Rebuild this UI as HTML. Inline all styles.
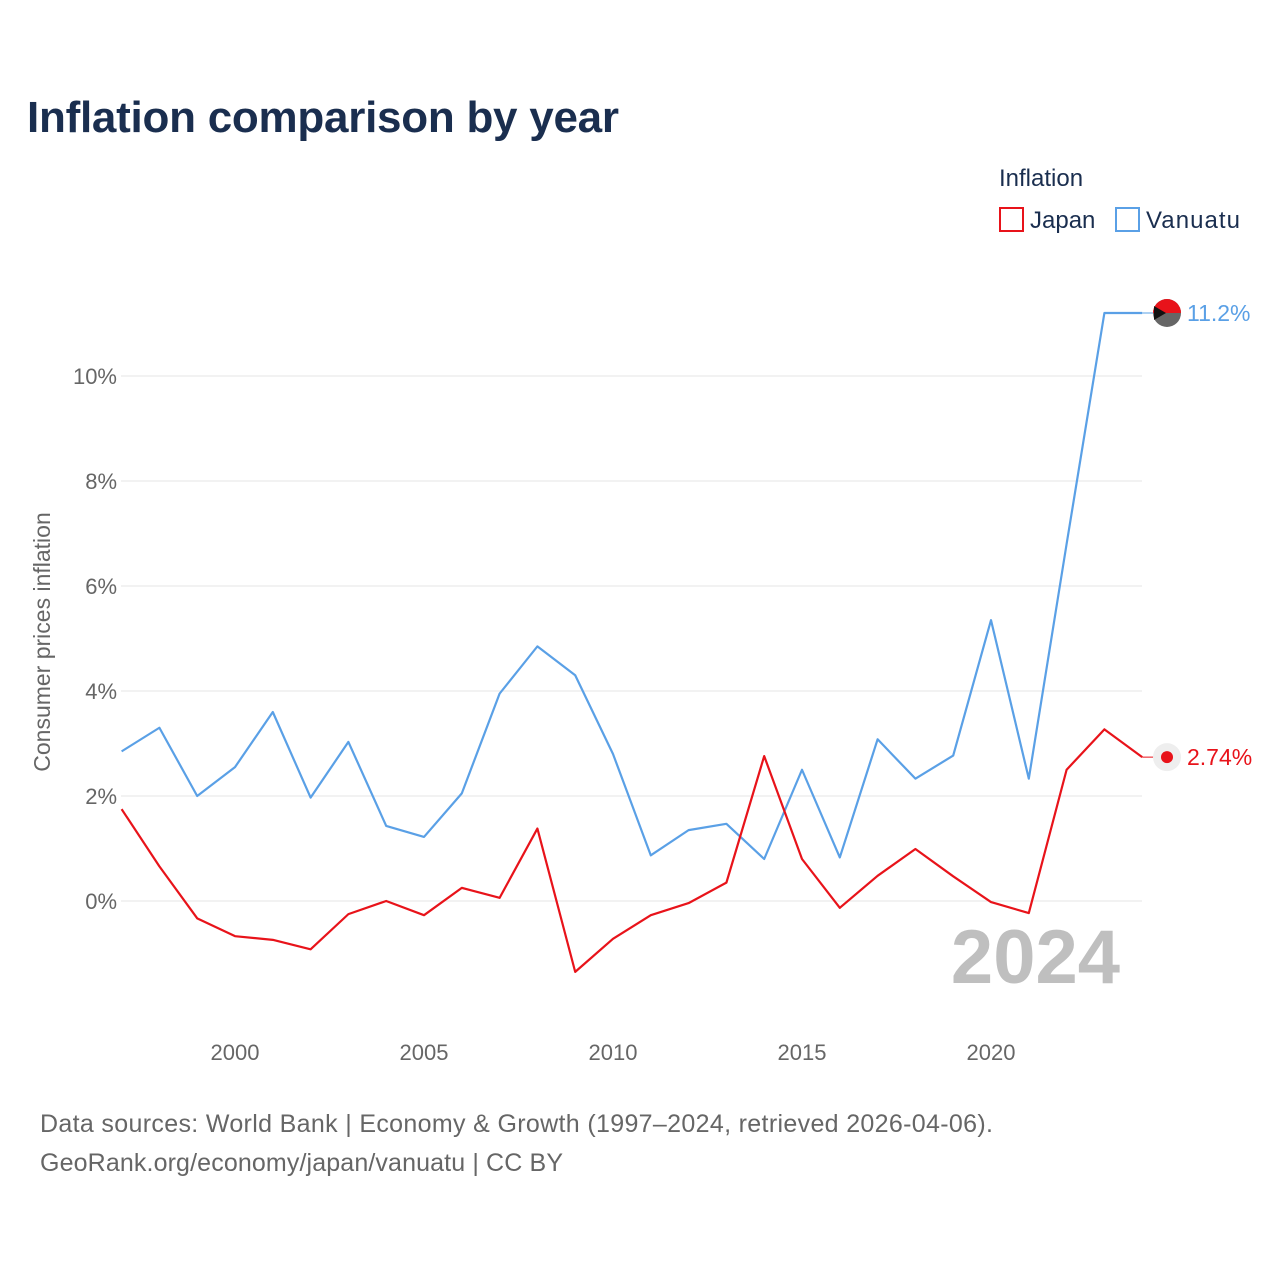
<!DOCTYPE html>
<html><head><meta charset="utf-8"><style>
body{margin:0;background:#fff;font-family:"Liberation Sans",sans-serif;}
</style></head><body>
<svg width="1280" height="1280" xmlns="http://www.w3.org/2000/svg">
<rect width="1280" height="1280" fill="#fff"/>
<text x="27" y="132" font-size="44" font-weight="bold" fill="#1a2e4f" textLength="592">Inflation comparison by year</text>
<text x="999" y="186" font-size="24" fill="#1a2e4f">Inflation</text>
<g><rect x="1000" y="208" width="23" height="23" fill="none" stroke="#e8131a" stroke-width="2"/><text x="1030" y="228" font-size="24" fill="#1a2e4f">Japan</text></g>
<g><rect x="1116" y="208" width="23" height="23" fill="none" stroke="#5aa0e6" stroke-width="2"/><text x="1146" y="228" font-size="24" fill="#1a2e4f" textLength="94">Vanuatu</text></g>
<g id="grid"></g><g id="xt"></g><g id="lines"></g>
<text x="1120" y="983" font-size="76" font-weight="bold" fill="#bfbfbf" text-anchor="end">2024</text>
<text transform="translate(50,642) rotate(-90)" font-size="23" fill="#666" text-anchor="middle">Consumer prices inflation</text>
<text x="40" y="1132" font-size="25" fill="#666" textLength="953">Data sources: World Bank | Economy &amp; Growth (1997–2024, retrieved 2026-04-06).</text>
<text x="40" y="1171" font-size="25" fill="#666" textLength="523">GeoRank.org/economy/japan/vanuatu | CC BY</text>
</svg>
<script>
const years=[1997,1998,1999,2000,2001,2002,2003,2004,2005,2006,2007,2008,2009,2010,2011,2012,2013,2014,2015,2016,2017,2018,2019,2020,2021,2022,2023,2024];
const japan=[1.75,0.66,-0.33,-0.67,-0.74,-0.92,-0.25,0,-0.27,0.25,0.06,1.38,-1.35,-0.72,-0.27,-0.04,0.35,2.76,0.8,-0.13,0.48,0.99,0.47,-0.02,-0.23,2.5,3.27,2.74];
const vanuatu=[2.85,3.3,2.0,2.55,3.6,1.97,3.03,1.43,1.22,2.05,3.95,4.85,4.3,2.8,0.87,1.35,1.47,0.8,2.5,0.83,3.08,2.33,2.77,5.35,2.33,6.8,11.2,11.2];
const yTicks=[0,2,4,6,8,10];
const xTicks=[2000,2005,2010,2015,2020];
const NS="http://www.w3.org/2000/svg";
const X=y=>121.6+(y-1997)*37.8;
const Y=v=>901-v*52.5;
function mk(t,a,p){const e=document.createElementNS(NS,t);for(const k in a)e.setAttribute(k,a[k]);document.getElementById(p).appendChild(e);return e;}
yTicks.forEach(v=>{
 const l=mk('line',{x1:121,x2:1142,y1:Y(v),y2:Y(v),stroke:'#e6e6e6','stroke-width':1},'grid');
 
 
 const t=mk('text',{x:117,y:Y(v)+8,'font-size':22,fill:'#666','text-anchor':'end'},'grid');t.textContent=v+'%';
 
 
});
xTicks.forEach(v=>{
 const t=mk('text',{x:X(v),y:1060,'font-size':22,fill:'#666','text-anchor':'middle'},'xt');t.textContent=v;
 
 
});
function series(d,c,name){
 const pts=d.map((v,i)=>X(years[i])+','+Y(v)).join(' ');
 const p=mk('polyline',{points:pts,fill:'none',stroke:c,'stroke-width':2.2,'stroke-linejoin':'round'},'lines');
 
 
 const last=d[d.length-1];
 mk('line',{x1:X(2024),x2:1160,y1:Y(last),y2:Y(last),stroke:c,'stroke-width':1},'lines');
}
series(vanuatu,'#5aa0e6','vanuatu');
series(japan,'#e8131a','japan');
const vl=vanuatu[vanuatu.length-1], jl=japan[japan.length-1];
const f=mk('g',{},'lines');


mk('circle',{cx:1167,cy:Y(vl),r:14,fill:'#666'},'lines');
mk('path',{d:`M1153 ${Y(vl)} A14 14 0 0 1 1181 ${Y(vl)} Z`,fill:'#e8131a'},'lines');
mk('path',{d:`M1154 ${Y(vl)-7} L1166 ${Y(vl)} L1154 ${Y(vl)+7} Z`,fill:'#111'},'lines');
const vt=mk('text',{x:1187,y:Y(vl)+8,'font-size':23,fill:'#5aa0e6'},'lines');vt.textContent=vl.toFixed(1)+'%';


mk('circle',{cx:1167,cy:Y(jl),r:14,fill:'#eee'},'lines');
const jd=mk('circle',{cx:1167,cy:Y(jl),r:6,fill:'#e8131a'},'lines');


const jt=mk('text',{x:1187,y:Y(jl)+8,'font-size':23,fill:'#e8131a'},'lines');jt.textContent=jl.toFixed(2)+'%';


</script>
</body></html>
